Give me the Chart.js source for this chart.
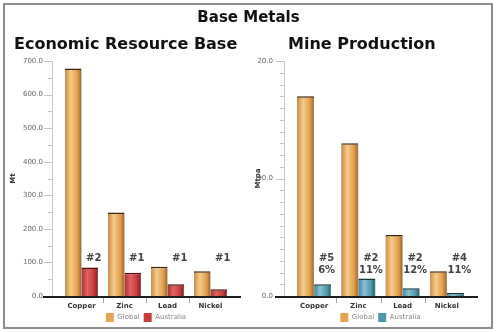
<!DOCTYPE html>
<html>
<head>
<meta charset="utf-8">
<script src="https://cdn.jsdelivr.net/npm/chart.js@4.4.1/dist/chart.umd.min.js"></script>
<style>
  html, body { margin: 0; padding: 0; background: #fff; }
  #wrap { position: relative; width: 497px; height: 332px; overflow: hidden; font-family: "DejaVu Sans", Verdana, sans-serif; }
  #frame { position: absolute; left: 3px; top: 3px; width: 486px; height: 322px; border: 2px solid #8c8c8c; }
  .txt { position: absolute; font-weight: bold; color: #111; white-space: nowrap; z-index: 2; }
  #title { left: 0; width: 497px; top: 7px; text-align: center; font-size: 15px; line-height: 20px; }
  #sub1 { left: 14px; top: 34px; font-size: 16px; line-height: 20px; }
  #sub2 { left: 288px; top: 34px; font-size: 16px; line-height: 20px; }
  canvas { position: absolute; top: 0; }
</style>
</head>
<body>
<div id="wrap">
  <div id="frame"></div>
  <div class="txt" id="title">Base Metals</div>
  <div class="txt" id="sub1">Economic Resource Base</div>
  <div class="txt" id="sub2">Mine Production</div>
  <canvas id="resourceChart" width="248" height="332" style="left:0"></canvas>
  <canvas id="productionChart" width="249" height="332" style="left:248px"></canvas>
</div>
<script>
// data
var categories = ["Copper", "Zinc", "Lead", "Nickel"];
var seriesNames = ["Global", "Australia"];

var resourceGlobal = [678, 249, 87, 74];
var resourceAus = [85, 69, 35, 20];
var resourceRank = [["#2"], ["#1"], ["#1"], ["#1"]];
var resourceMax = 700, resourceStep = 100, resourceMinor = 50;

var prodGlobal = [17.0, 13.0, 5.2, 2.1];
var prodAus = [1.0, 1.5, 0.65, 0.25];
var prodRank = [["#5", "6%"], ["#2", "11%"], ["#2", "12%"], ["#4", "11%"]];
var prodMax = 20, prodStep = 10, prodMinor = 1;

var FONT = "'DejaVu Sans', Verdana, sans-serif";
var CAT_PCT = 0.77;

var gold = ["#cf8a3c", "#f4cb8c", "#e29e4c", "#9e6228"];
var red = ["#b02f2f", "#e06262", "#c63c3c", "#7a1818"];
var teal = ["#3d8599", "#86c1d1", "#4f98ac", "#29596a"];

// horizontal gradient across each bar, worked out from the x scale
function barFill(stops) {
  return function (c) {
    var chart = c.chart, xs = chart.scales.x;
    if (!chart.chartArea || !xs || c.dataIndex === undefined) return stops[1];
    var catW = xs.width / chart.data.labels.length;
    var groupW = catW * CAT_PCT;
    var barW = groupW / chart.data.datasets.length;
    var left = xs.getPixelForValue(c.dataIndex) - groupW / 2 + c.datasetIndex * barW;
    var g = chart.ctx.createLinearGradient(left, 0, left + barW, 0);
    g.addColorStop(0, stops[0]);
    g.addColorStop(0.35, stops[1]);
    g.addColorStop(0.75, stops[2]);
    g.addColorStop(1, stops[3]);
    return g;
  };
}

// axis lines and tick marks, drawn a little outside the plot like the original
var axesLines = {
  id: "axesLines",
  afterDatasetsDraw: function (chart, args, o) {
    var ctx = chart.ctx, a = chart.chartArea, x = chart.scales.x, y = chart.scales.y;
    var ax = a.left - 8;
    ctx.save();
    ctx.strokeStyle = "#c6c6c6";
    ctx.lineWidth = 1;
    ctx.beginPath();
    ctx.moveTo(ax + 0.5, a.top);
    ctx.lineTo(ax + 0.5, a.bottom);
    for (var v = 0; v <= y.max + 1e-9; v += o.minor) {
      var py = Math.round(y.getPixelForValue(v)) + 0.5;
      var major = Math.abs(v / o.step - Math.round(v / o.step)) < 1e-6;
      ctx.moveTo(ax - (major ? 8 : 4), py);
      ctx.lineTo(ax, py);
    }
    ctx.stroke();
    ctx.strokeStyle = "#a0a0a0";
    ctx.beginPath();
    for (var i = 0; i < chart.data.labels.length - 1; i++) {
      var px = Math.round((x.getPixelForValue(i) + x.getPixelForValue(i + 1)) / 2) + 0.5;
      ctx.moveTo(px, a.bottom);
      ctx.lineTo(px, a.bottom + 7);
    }
    ctx.stroke();
    ctx.strokeStyle = "#1e1e1e";
    ctx.lineWidth = 2;
    ctx.beginPath();
    ctx.moveTo(ax - 9, a.bottom + 1);
    ctx.lineTo(a.right + 9, a.bottom + 1);
    ctx.stroke();
    ctx.restore();
  }
};

// rank / share notes above the Australia bars
var ranks = {
  id: "ranks",
  afterDatasetsDraw: function (chart, args, o) {
    var ctx = chart.ctx, a = chart.chartArea;
    var bars = chart.getDatasetMeta(1).data;
    ctx.save();
    ctx.font = "bold 10px " + FONT;
    ctx.fillStyle = "#444";
    ctx.textAlign = "center";
    ctx.textBaseline = "middle";
    o.lines.forEach(function (lines, i) {
      lines.forEach(function (t, j) {
        ctx.fillText(t, bars[i].x + 4, a.bottom - 38 + j * 12);
      });
    });
    ctx.restore();
  }
};

function makeChart(id, o) {
  return new Chart(document.getElementById(id), {
    type: "bar",
    data: {
      labels: categories,
      datasets: [{
        label: seriesNames[0],
        data: o.global,
        backgroundColor: barFill(gold),
        borderColor: "#3b2208",
        borderWidth: { top: 1.5, left: 0.5, right: 0.5, bottom: 0 },
        categoryPercentage: CAT_PCT,
        barPercentage: 1
      }, {
        label: seriesNames[1],
        data: o.aus,
        backgroundColor: barFill(o.ausStops),
        borderColor: o.ausEdge,
        borderWidth: { top: 1.5, left: 0.5, right: 0.5, bottom: 0 },
        categoryPercentage: CAT_PCT,
        barPercentage: 1
      }]
    },
    options: {
      responsive: false,
      animation: false,
      events: [],
      layout: { padding: { left: o.padL, right: o.padR, top: 61, bottom: 0 } },
      scales: {
        x: {
          grid: { display: false, drawTicks: false },
          border: { display: false },
          ticks: { font: { family: FONT, size: 7, weight: "bold" }, color: "#333", padding: 6 },
          afterFit: function (s) { s.height = 13; }
        },
        y: {
          min: 0,
          max: o.max,
          grid: { display: false, drawTicks: false },
          border: { display: false },
          ticks: {
            stepSize: o.step,
            padding: o.tickPad,
            font: { family: FONT, size: 7 },
            color: "#666",
            callback: function (v) { return v.toFixed(1); }
          },
          title: { display: true, text: o.unit, padding: 0, color: "#333", font: { family: FONT, size: 7, weight: "bold" } },
          afterFit: function (s) { s.width = o.axisW; }
        }
      },
      plugins: {
        legend: {
          position: "bottom",
          fullSize: false,
          labels: {
            boxWidth: 8,
            boxHeight: 9,
            padding: 4,
            color: "#888",
            font: { family: FONT, size: 7 },
            generateLabels: function () {
              return [
                { text: seriesNames[0], fillStyle: "#e3a454", strokeStyle: "rgba(0,0,0,0)", lineWidth: 0, datasetIndex: 0, fontColor: "#888" },
                { text: seriesNames[1], fillStyle: o.ausKey, strokeStyle: "rgba(0,0,0,0)", lineWidth: 0, datasetIndex: 1, fontColor: "#888" }
              ];
            }
          }
        },
        tooltip: { enabled: false },
        axesLines: { step: o.step, minor: o.minor },
        ranks: { lines: o.rank }
      }
    },
    plugins: [axesLines, ranks]
  });
}

makeChart("resourceChart", {
  global: resourceGlobal, aus: resourceAus, rank: resourceRank,
  max: resourceMax, step: resourceStep, minor: resourceMinor,
  unit: "Mt", ausStops: red, ausEdge: "#4a0e0e", ausKey: "#c63c3c",
  padL: 9, axisW: 51, tickPad: 17, padR: 16
});

makeChart("productionChart", {
  global: prodGlobal, aus: prodAus, rank: prodRank,
  max: prodMax, step: prodStep, minor: prodMinor,
  unit: "Mtpa", ausStops: teal, ausEdge: "#17353e", ausKey: "#4f98ac",
  padL: 6, axisW: 38, tickPad: 19, padR: 28
});
</script>
</body>
</html>
